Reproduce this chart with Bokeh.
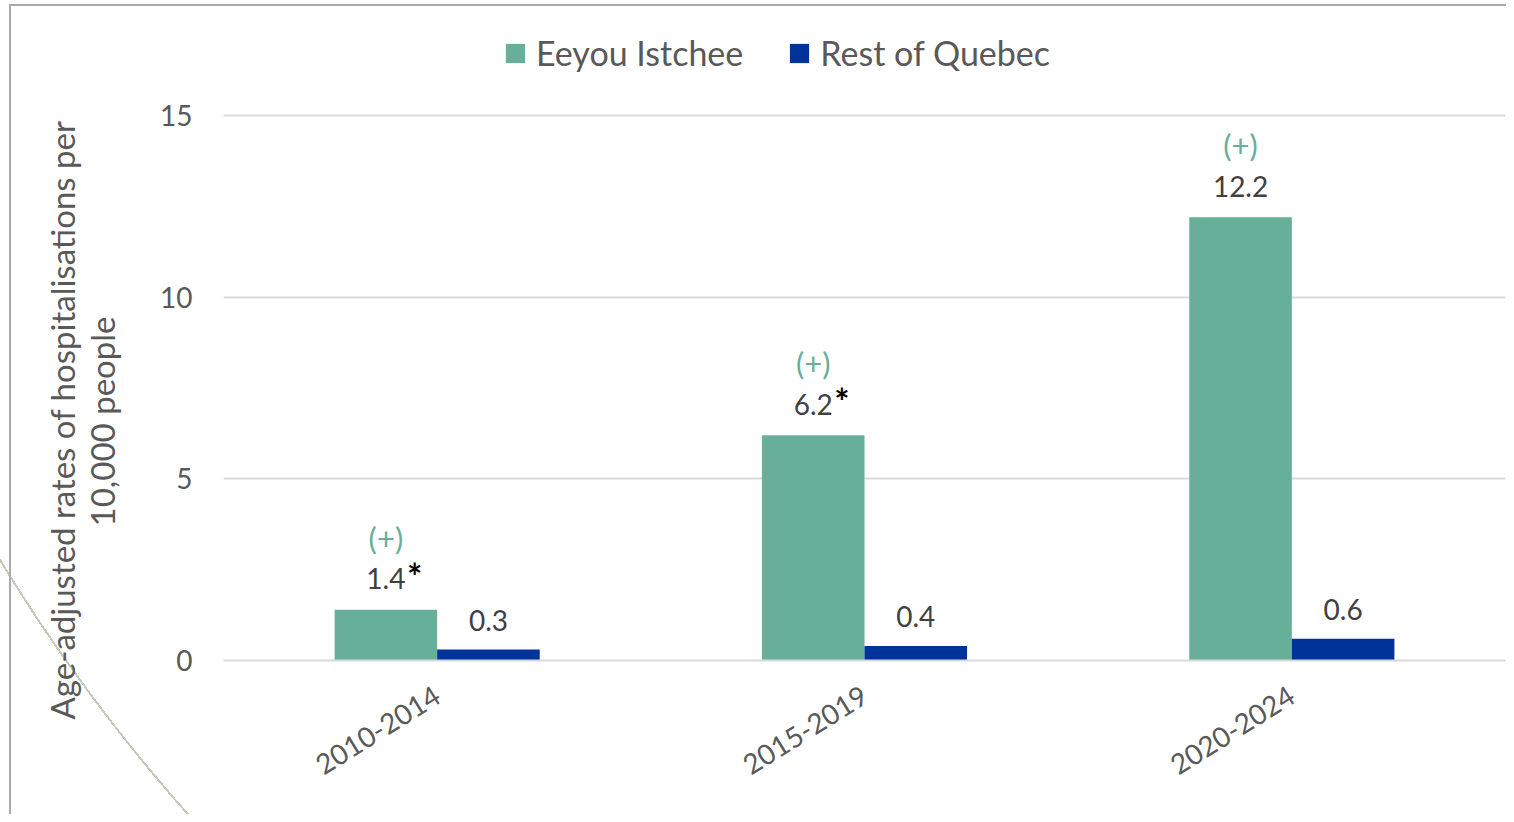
import numpy as np
from bokeh.plotting import figure
from bokeh.models import ColumnDataSource, FactorRange, Legend, LegendItem, Title, FixedTicker, Range1d
from bokeh.transform import dodge
from bokeh.core.properties import value
from bokeh.embed import file_html
from bokeh.resources import INLINE

# ---------------- data ----------------
periods = ["2010-2014", "2015-2019", "2020-2024"]
eeyou = [1.4, 6.2, 12.2]
rest_qc = [0.3, 0.4, 0.6]
eeyou_labels = ["1.4", "6.2", "12.2"]
rest_labels = ["0.3", "0.4", "0.6"]
eeyou_stars = ["*", "*", ""]
eeyou_signif = ["(+)", "(+)", "(+)"]
y_ticks = [0, 5, 10, 15]
series_names = ["Eeyou Istchee", "Rest of Quebec"]
y_title = ["Age-adjusted rates of hospitalisations per", "10,000 people"]

# ---------------- style ----------------
FONT = "Lato"
GREEN = "#67AF98"
BLUE = "#003399"
TXT = "#404040"
TICK = "#595959"
GRID = "#d9d9d9"
FRAME_LINE = "#aaaaaa"
ARC = "#c9c9bb"

W, H = 1506, 814
Y0_PX, Y15_PX = 660, 115           # pixel rows of the 0 and 15 gridlines
FRAME_TOP = 20                      # plot area extended upward to hold the legend
PXU = (Y0_PX - Y15_PX) / 15.0
Y_END = (Y0_PX - FRAME_TOP) / PXU
BL, BR, BT, BB = 223, 1, FRAME_TOP, H - Y0_PX

# decorative page frame and arc (CSS background behind the transparent border)
pts = np.array([[0, 560], [100, 707], [193, 820]], float)
(ax_, ay_), (bx_, by_), (cx_, cy_) = pts
d = 2 * (ax_ * (by_ - cy_) + bx_ * (cy_ - ay_) + cx_ * (ay_ - by_))
ux = ((ax_**2 + ay_**2) * (by_ - cy_) + (bx_**2 + by_**2) * (cy_ - ay_) + (cx_**2 + cy_**2) * (ay_ - by_)) / d
uy = ((ax_**2 + ay_**2) * (cx_ - bx_) + (bx_**2 + by_**2) * (ax_ - cx_) + (cx_**2 + cy_**2) * (bx_ - ax_)) / d
rad = float(np.hypot(ax_ - ux, ay_ - uy))
styles = {
    "background-image": (f"linear-gradient({FRAME_LINE},{FRAME_LINE}), "
                         f"linear-gradient({FRAME_LINE},{FRAME_LINE}), "
                         f"radial-gradient(circle at {ux:.1f}px {uy:.1f}px, transparent {rad-1:.1f}px, "
                         f"{ARC} {rad-1:.1f}px, {ARC} {rad+1:.1f}px, transparent {rad+1:.1f}px)"),
    "background-size": "2px 100%, 100% 2px, 215px 100%",
    "background-position": "9px 4px, 9px 4px, 0px 0px",
    "background-repeat": "no-repeat",
}

src = ColumnDataSource(dict(period=periods, eeyou=eeyou, rest=rest_qc,
                            elab=eeyou_labels, rlab=rest_labels,
                            star=eeyou_stars, sig=eeyou_signif))

p = figure(x_range=FactorRange(*periods), y_range=Range1d(0, Y_END),
           width=W, height=H, output_backend="svg", toolbar_location=None,
           min_border_left=BL, min_border_right=BR, min_border_top=BT, min_border_bottom=BB,
           background_fill_color="white", border_fill_color=None, styles=styles)
p.outline_line_color = None

r1 = p.vbar(x=dodge("period", -0.12, range=p.x_range), top="eeyou", width=0.24,
            source=src, fill_color=GREEN, line_color=None)
r2 = p.vbar(x=dodge("period", 0.12, range=p.x_range), top="rest", width=0.24,
            source=src, fill_color=BLUE, line_color=None)

# data labels
p.text(x=dodge("period", -0.12, range=p.x_range), y="eeyou", text="elab", source=src,
       text_font=value(FONT), text_font_size="28px", text_color=TXT,
       text_align="center", text_baseline="alphabetic", y_offset=-31)
p.text(x=dodge("period", -0.12, range=p.x_range), y="eeyou", text="star", source=src,
       text_font=value(FONT), text_font_size="36px", text_font_style="bold", text_color="black",
       text_align="left", text_baseline="alphabetic", x_offset=21, y_offset=-34)
p.text(x=dodge("period", -0.12, range=p.x_range), y="eeyou", text="sig", source=src,
       text_font=value(FONT), text_font_size="31px", text_color=GREEN,
       text_align="center", text_baseline="alphabetic", y_offset=-72)
p.text(x=dodge("period", 0.12, range=p.x_range), y="rest", text="rlab", source=src,
       text_font=value(FONT), text_font_size="28px", text_color=TXT,
       text_align="center", text_baseline="alphabetic", y_offset=-29)

# axes
p.yaxis.ticker = FixedTicker(ticks=y_ticks)
p.yaxis.axis_line_color = None
p.yaxis.major_tick_line_color = None
p.yaxis.minor_tick_line_color = None
p.yaxis.major_tick_out = 0
p.yaxis.major_tick_in = 0
p.yaxis.major_label_standoff = 31
p.yaxis.major_label_text_font = FONT
p.yaxis.major_label_text_font_size = "28px"
p.yaxis.major_label_text_color = TICK

p.xaxis.axis_line_color = GRID
p.xaxis.axis_line_width = 2
p.xaxis.major_tick_line_color = None
p.xaxis.minor_tick_line_color = None
p.xaxis.major_tick_out = 0
p.xaxis.major_tick_in = 0
p.xaxis.major_label_orientation = 32 * np.pi / 180
p.xaxis.major_label_standoff = 32
p.xaxis.major_label_text_font = FONT
p.xaxis.major_label_text_font_size = "28px"
p.xaxis.major_label_text_color = TICK

p.xgrid.grid_line_color = None
p.ygrid.grid_line_color = GRID
p.ygrid.grid_line_width = 2
p.ygrid.ticker = FixedTicker(ticks=y_ticks)

# legend (inside the upward-extended plot area, above the 15 gridline)
legend = Legend(items=[LegendItem(label=series_names[0], renderers=[r1]),
                       LegendItem(label=series_names[1], renderers=[r2])],
                orientation="horizontal", location=(280, (Y0_PX - 52) - 21),
                label_text_font=FONT, label_text_font_size="34px", label_text_color=TICK,
                glyph_width=24, glyph_height=24, label_standoff=9, spacing=44,
                padding=0, margin=0, border_line_color=None, background_fill_alpha=0)
p.add_layout(legend, "center")

# y-axis title: two lines as left-side titles (nearest line first)
for txt, stand, off in [(y_title[1], 72, 134), (y_title[0], -77, -59)]:
    p.add_layout(Title(text=txt, align="left", offset=off,
                       text_font=FONT, text_font_size="33px", text_font_style="normal",
                       text_color=TICK, standoff=stand), "left")

open("out.html", "w").write(file_html(p, INLINE))
